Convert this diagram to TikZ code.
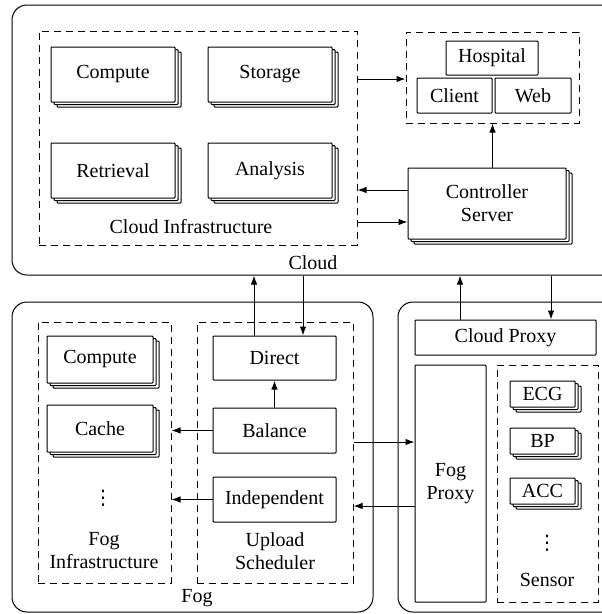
\documentclass[tikz,border=0pt]{standalone}
\usepackage{fontspec}
\setmainfont{Liberation Serif}
\newfontfamily\symfont{DejaVu Sans}
\usetikzlibrary{arrows.meta,shadows}

\begin{document}
\begin{tikzpicture}[x=1pt,y=-1pt,
  every node/.style={font=\fontsize{20}{23}\selectfont, inner sep=0pt},
  group/.style={draw, line width=1pt, rounded corners=15pt},
  zone/.style={draw, line width=1pt, dash pattern=on 7pt off 5pt},
  plainbox/.style={draw, fill=white, line width=1pt, rounded corners=0.8pt},
  stackbox/.style={plainbox, double copy shadow={shadow xshift=3pt, shadow yshift=-2.5pt}},
  lbl/.style={align=center},
  vdotsnode/.style={font=\symfont\fontsize{20}{23}\selectfont},
  arr/.style={line width=1pt, -{Latex[length=9pt,width=6.5pt]}}
]
\clip (0,0) rectangle (602,614);

% ---------------- Cloud ----------------
\node[group, minimum width=608pt, minimum height=270pt] (cloud) at (316,140) {};
\node[zone, minimum width=318pt, minimum height=214pt] (cloudinfra) at (198,138) {};
\node[stackbox, minimum width=124pt, minimum height=55pt] (ccompute) at (113,74.5) {Compute};
\node[stackbox, minimum width=124pt, minimum height=55pt] (cstorage) at (270,74.5) {Storage};
\node[stackbox, minimum width=124pt, minimum height=55pt] (cretrieval) at (113,170.5) {Retrieval};
\node[stackbox, minimum width=124pt, minimum height=55pt] (canalysis) at (270,170.5) {Analysis};
\node[lbl] (cinfralbl) at (191,227) {Cloud Infrastructure};
\node[lbl] (cloudlbl) at (313,263) {Cloud};

\node[zone, minimum width=173pt, minimum height=91pt] (hospgroup) at (492.5,77.5) {};
\node[plainbox, minimum width=92pt, minimum height=34pt] (hospital) at (492,58) {Hospital};
\node[plainbox, minimum width=75pt, minimum height=35pt] (client) at (454.5,95.5) {Client};
\node[plainbox, minimum width=76pt, minimum height=35pt] (web) at (533,95.5) {Web};

\node[stackbox, lbl, minimum width=158pt, minimum height=71pt] (controller) at (487,203.5) {Controller\\Server};

\draw[arr] (cloudinfra.east |- 0,79) -- (hospgroup.west |- 0,79);
\draw[arr] (controller.north -| hospgroup.south) -- (hospgroup.south);
\draw[arr] (controller.west |- 0,190) -- (cloudinfra.east |- 0,190);
\draw[arr] (cloudinfra.east |- 0,222) -- (controller.west |- 0,222);

% ---------------- Fog ----------------
\node[group, minimum width=361pt, minimum height=310pt] (fog) at (192.5,457) {};
\node[zone, minimum width=133pt, minimum height=261pt] (foginfra) at (104.5,452.5) {};
\node[zone, minimum width=156pt, minimum height=261pt] (upsched) at (275,452.5) {};

\node[stackbox, minimum width=106pt, minimum height=47pt] (fcompute) at (100,359.5) {Compute};
\node[stackbox, minimum width=106pt, minimum height=47pt] (cache) at (100,428.5) {Cache};
\node[vdotsnode] (fdots) at (103,498) {⋮};
\node[lbl] (finfralbl) at (104,551) {Fog\\Infrastructure};

\node[plainbox, minimum width=123pt, minimum height=44pt] (direct) at (274.5,358) {Direct};
\node[plainbox, minimum width=123pt, minimum height=45pt] (balance) at (274.5,430.5) {Balance};
\node[plainbox, minimum width=123pt, minimum height=45pt] (independent) at (274.5,499.5) {Independent};
\node[lbl] (upschedlbl) at (275,551) {Upload\\Scheduler};
\node[lbl] (foglbl) at (197,598) {Fog};

\draw[arr] (direct.north -| 254,0) -- (cloud.south -| 254,0);
\draw[arr] (cloud.south -| 303,0) -- (direct.north -| 303,0);
\draw[arr] (balance.north) -- (direct.south);
\draw[arr] (balance.west) -- (balance.west -| foginfra.east);
\draw[arr] (independent.west) -- (independent.west -| foginfra.east);

% ---------------- Proxies and sensors ----------------
\node[group, minimum width=242pt, minimum height=310pt] (edge) at (519,457) {};
\node[plainbox, minimum width=181pt, minimum height=35pt] (cloudproxy) at (505.5,337.5) {Cloud Proxy};
\node[plainbox, lbl, minimum width=71pt, minimum height=237pt] (fogproxy) at (450.5,483.5) {Fog\\Proxy};
\node[zone, minimum width=101pt, minimum height=237pt] (sensor) at (547.5,483.5) {};
\node[stackbox, minimum width=65pt, minimum height=26pt] (ecg) at (542.5,394) {ECG};
\node[stackbox, minimum width=65pt, minimum height=26pt] (bp) at (542.5,441) {BP};
\node[stackbox, minimum width=65pt, minimum height=26pt] (acc) at (542.5,491) {ACC};
\node[vdotsnode] (sdots) at (547,543) {⋮};
\node[lbl] (sensorlbl) at (547,580) {Sensor};

\draw[arr] (cloudproxy.north -| 460,0) -- (cloud.south -| 460,0);
\draw[arr] (cloud.south -| 551,0) -- (cloudproxy.north -| 551,0);
\draw[arr] (upsched.east |- 0,442) -- (fogproxy.west |- 0,442);
\draw[arr] (fogproxy.west |- 0,506) -- (upsched.east |- 0,506);
\end{tikzpicture}
\end{document}
